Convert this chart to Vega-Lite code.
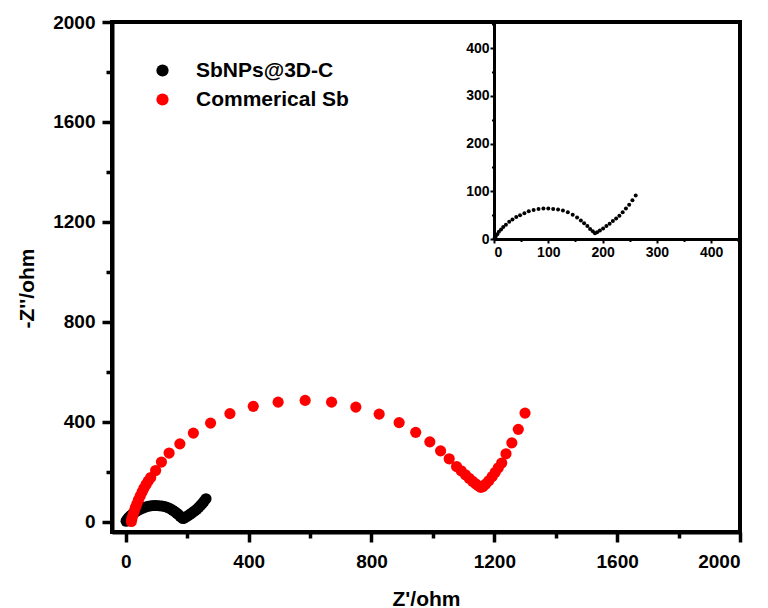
{
  "$schema": "https://vega.github.io/schema/vega-lite/v6.json",
  "autosize": {"type": "none"},
  "width": 628,
  "height": 510,
  "padding": {"left": 112, "top": 22, "right": 28, "bottom": 76},
  "background": "white",
  "config": {
    "view": {"stroke": "black", "strokeWidth": 4},
    "font": "Liberation Sans",
    "axis": {
      "labelFont": "Liberation Sans", "labelFontWeight": "bold", "labelColor": "black",
      "titleFont": "Liberation Sans", "titleFontWeight": "bold", "titleColor": "black",
      "domainColor": "black", "tickColor": "black", "grid": false, "format": "d"
    },
    "legend": {"labelFont": "Liberation Sans", "labelFontWeight": "bold"}
  },
  "datasets": {
    "eis": [
      {"s": "SbNPs@3D-C", "x": 1, "y": 1},
      {"s": "SbNPs@3D-C", "x": 3, "y": 5},
      {"s": "SbNPs@3D-C", "x": 6, "y": 10},
      {"s": "SbNPs@3D-C", "x": 9, "y": 15},
      {"s": "SbNPs@3D-C", "x": 13, "y": 20},
      {"s": "SbNPs@3D-C", "x": 17, "y": 25},
      {"s": "SbNPs@3D-C", "x": 22, "y": 30},
      {"s": "SbNPs@3D-C", "x": 28, "y": 36},
      {"s": "SbNPs@3D-C", "x": 34, "y": 41},
      {"s": "SbNPs@3D-C", "x": 41, "y": 46},
      {"s": "SbNPs@3D-C", "x": 48, "y": 50},
      {"s": "SbNPs@3D-C", "x": 56, "y": 54},
      {"s": "SbNPs@3D-C", "x": 64, "y": 58},
      {"s": "SbNPs@3D-C", "x": 73, "y": 61},
      {"s": "SbNPs@3D-C", "x": 82, "y": 63},
      {"s": "SbNPs@3D-C", "x": 91, "y": 64},
      {"s": "SbNPs@3D-C", "x": 100, "y": 64},
      {"s": "SbNPs@3D-C", "x": 109, "y": 63},
      {"s": "SbNPs@3D-C", "x": 118, "y": 62},
      {"s": "SbNPs@3D-C", "x": 127, "y": 60},
      {"s": "SbNPs@3D-C", "x": 136, "y": 56},
      {"s": "SbNPs@3D-C", "x": 145, "y": 51},
      {"s": "SbNPs@3D-C", "x": 153, "y": 45},
      {"s": "SbNPs@3D-C", "x": 160, "y": 39},
      {"s": "SbNPs@3D-C", "x": 166, "y": 33},
      {"s": "SbNPs@3D-C", "x": 172, "y": 27},
      {"s": "SbNPs@3D-C", "x": 177, "y": 21},
      {"s": "SbNPs@3D-C", "x": 182, "y": 16},
      {"s": "SbNPs@3D-C", "x": 186, "y": 12},
      {"s": "SbNPs@3D-C", "x": 190, "y": 14},
      {"s": "SbNPs@3D-C", "x": 195, "y": 18},
      {"s": "SbNPs@3D-C", "x": 201, "y": 22},
      {"s": "SbNPs@3D-C", "x": 207, "y": 27},
      {"s": "SbNPs@3D-C", "x": 213, "y": 32},
      {"s": "SbNPs@3D-C", "x": 219, "y": 38},
      {"s": "SbNPs@3D-C", "x": 225, "y": 43},
      {"s": "SbNPs@3D-C", "x": 231, "y": 49},
      {"s": "SbNPs@3D-C", "x": 237, "y": 56},
      {"s": "SbNPs@3D-C", "x": 243, "y": 64},
      {"s": "SbNPs@3D-C", "x": 249, "y": 72},
      {"s": "SbNPs@3D-C", "x": 255, "y": 81},
      {"s": "SbNPs@3D-C", "x": 261, "y": 91},
      {"s": "Commerical Sb", "x": 18, "y": 0},
      {"s": "Commerical Sb", "x": 20, "y": 12},
      {"s": "Commerical Sb", "x": 23, "y": 25},
      {"s": "Commerical Sb", "x": 27, "y": 40},
      {"s": "Commerical Sb", "x": 31, "y": 55},
      {"s": "Commerical Sb", "x": 36, "y": 70},
      {"s": "Commerical Sb", "x": 41, "y": 86},
      {"s": "Commerical Sb", "x": 47, "y": 102},
      {"s": "Commerical Sb", "x": 53, "y": 118},
      {"s": "Commerical Sb", "x": 59, "y": 133},
      {"s": "Commerical Sb", "x": 66, "y": 148},
      {"s": "Commerical Sb", "x": 73, "y": 162},
      {"s": "Commerical Sb", "x": 81, "y": 176},
      {"s": "Commerical Sb", "x": 97, "y": 204},
      {"s": "Commerical Sb", "x": 116, "y": 238},
      {"s": "Commerical Sb", "x": 141, "y": 274},
      {"s": "Commerical Sb", "x": 176, "y": 311},
      {"s": "Commerical Sb", "x": 220, "y": 354},
      {"s": "Commerical Sb", "x": 276, "y": 394},
      {"s": "Commerical Sb", "x": 339, "y": 432},
      {"s": "Commerical Sb", "x": 415, "y": 461},
      {"s": "Commerical Sb", "x": 496, "y": 478},
      {"s": "Commerical Sb", "x": 584, "y": 485},
      {"s": "Commerical Sb", "x": 670, "y": 478},
      {"s": "Commerical Sb", "x": 749, "y": 458},
      {"s": "Commerical Sb", "x": 825, "y": 430},
      {"s": "Commerical Sb", "x": 890, "y": 396},
      {"s": "Commerical Sb", "x": 944, "y": 357},
      {"s": "Commerical Sb", "x": 990, "y": 319},
      {"s": "Commerical Sb", "x": 1025, "y": 283},
      {"s": "Commerical Sb", "x": 1053, "y": 251},
      {"s": "Commerical Sb", "x": 1077, "y": 220},
      {"s": "Commerical Sb", "x": 1092, "y": 203},
      {"s": "Commerical Sb", "x": 1106, "y": 187},
      {"s": "Commerical Sb", "x": 1118, "y": 173},
      {"s": "Commerical Sb", "x": 1129, "y": 161},
      {"s": "Commerical Sb", "x": 1139, "y": 151},
      {"s": "Commerical Sb", "x": 1148, "y": 143},
      {"s": "Commerical Sb", "x": 1156, "y": 137},
      {"s": "Commerical Sb", "x": 1163, "y": 140},
      {"s": "Commerical Sb", "x": 1172, "y": 150},
      {"s": "Commerical Sb", "x": 1182, "y": 163},
      {"s": "Commerical Sb", "x": 1193, "y": 180},
      {"s": "Commerical Sb", "x": 1203, "y": 197},
      {"s": "Commerical Sb", "x": 1213, "y": 215},
      {"s": "Commerical Sb", "x": 1224, "y": 234},
      {"s": "Commerical Sb", "x": 1238, "y": 271},
      {"s": "Commerical Sb", "x": 1257, "y": 315},
      {"s": "Commerical Sb", "x": 1278, "y": 369},
      {"s": "Commerical Sb", "x": 1300, "y": 434}
    ]
  },
  "data": {"name": "eis"},
  "layer": [
    {
      "mark": {"type": "point", "filled": true, "opacity": 1, "size": 125, "shape": "circle"},
      "encoding": {
        "x": {"field": "x", "type": "quantitative",
          "scale": {"domain": [-45, 2000], "nice": false, "zero": false},
          "axis": {"orient": "bottom", "values": [0, 400, 800, 1200, 1600, 2000], "tickSize": 10, "tickWidth": 3.5, "domainWidth": 4,
            "labelFontSize": 19, "labelPadding": 10, "title": "Z'/ohm", "titleFontSize": 21,
            "titleBaseline": "alphabetic", "titleY": 73}},
        "y": {"field": "y", "type": "quantitative",
          "scale": {"domain": [-42, 2000], "nice": false, "zero": false},
          "axis": {"orient": "left", "values": [0, 400, 800, 1200, 1600, 2000], "tickSize": 10, "tickWidth": 3.5, "domainWidth": 4,
            "labelFontSize": 19, "labelPadding": 7, "title": "-Z''/ohm", "titleFontSize": 21,
            "titleAngle": -90, "titleAlign": "center", "titleBaseline": "middle", "titleX": -85, "titleY": 266}},
        "color": {"field": "s", "type": "nominal",
          "scale": {"domain": ["SbNPs@3D-C", "Commerical Sb"], "range": ["black", "red"]},
          "legend": {"title": null, "orient": "none", "legendX": 40, "legendY": 38,
            "symbolType": "circle", "symbolSize": 150, "symbolStrokeWidth": 0,
            "labelFontSize": 21, "labelColor": "black", "labelOffset": 23, "rowPadding": 7, "padding": 0}},
        "order": {"field": "s", "sort": "descending"}
      }
    },
    {
      "mark": {"type": "point", "opacity": 0},
      "encoding": {
        "x": {"field": "x", "type": "quantitative",
          "scale": {"domain": [-45, 2000], "nice": false, "zero": false},
          "axis": {"orient": "bottom", "values": [200, 600, 1000, 1400, 1800], "tickSize": 6, "tickWidth": 3.5,
            "domain": false, "labels": false, "title": null}},
        "y": {"field": "y", "type": "quantitative",
          "scale": {"domain": [-42, 2000], "nice": false, "zero": false},
          "axis": {"orient": "left", "values": [200, 600, 1000, 1400, 1800], "tickSize": 6, "tickWidth": 3.5,
            "domain": false, "labels": false, "title": null}}
      }
    },
    {
      "transform": [{"filter": "datum.s === 'SbNPs@3D-C'"}],
      "mark": {"type": "point", "filled": true, "opacity": 1, "size": 16, "shape": "circle", "color": "black"},
      "encoding": {
        "x": {"field": "x", "type": "quantitative",
          "scale": {"domain": [0, 455], "range": [382, 629], "nice": false, "zero": false},
          "axis": {"orient": "bottom", "offset": -293, "values": [0, 100, 200, 300, 400], "tickSize": 4, "tickWidth": 2, "domainWidth": 3,
            "labelFontSize": 14, "labelPadding": 2, "title": null}},
        "y": {"field": "y", "type": "quantitative",
          "scale": {"domain": [0, 455], "range": [217, 0], "nice": false, "zero": false},
          "axis": {"orient": "left", "offset": -382, "values": [0, 100, 200, 300, 400], "tickSize": 4, "tickWidth": 2, "domainWidth": 3,
            "labelFontSize": 14, "labelPadding": 1, "title": null}}
      }
    },
    {
      "transform": [{"filter": "datum.s === 'SbNPs@3D-C'"}],
      "mark": {"type": "point", "opacity": 0},
      "encoding": {
        "x": {"field": "x", "type": "quantitative",
          "scale": {"domain": [0, 455], "range": [382, 629], "nice": false, "zero": false},
          "axis": {"orient": "bottom", "offset": -293, "values": [50, 150, 250, 350, 450], "tickSize": 2.5, "tickWidth": 2,
            "domain": false, "labels": false, "title": null}},
        "y": {"field": "y", "type": "quantitative",
          "scale": {"domain": [0, 455], "range": [217, 0], "nice": false, "zero": false},
          "axis": {"orient": "left", "offset": -382, "values": [50, 150, 250, 350, 450], "tickSize": 2.5, "tickWidth": 2,
            "domain": false, "labels": false, "title": null}}
      }
    }
  ],
  "resolve": {
    "scale": {"x": "independent", "y": "independent"},
    "axis": {"x": "independent", "y": "independent"}
  }
}
